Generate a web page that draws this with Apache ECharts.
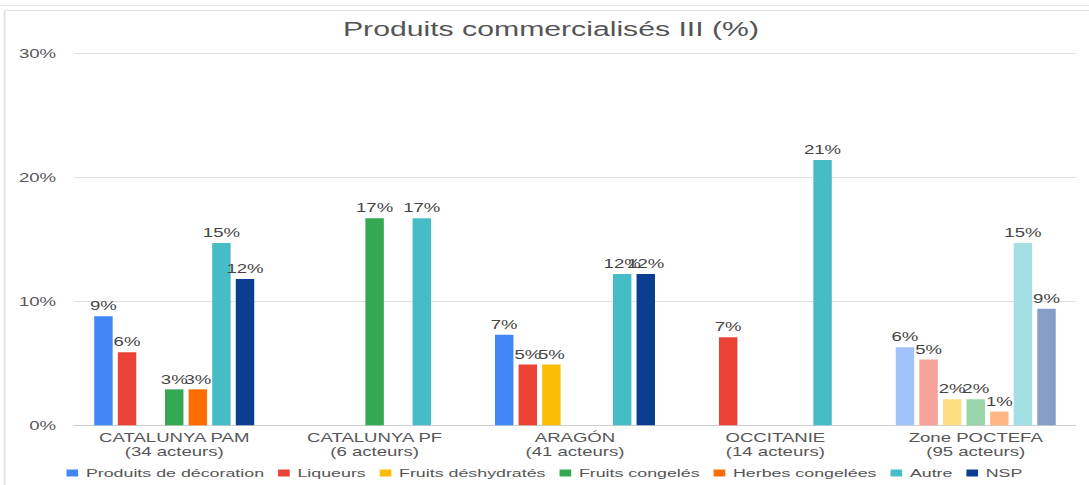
<!DOCTYPE html>
<html lang="fr">
<head>
<meta charset="utf-8">
<title>Produits commercialisés III (%)</title>
<script src="https://cdn.jsdelivr.net/npm/echarts@6/dist/echarts.min.js"></script>
<style>
  html, body { margin: 0; padding: 0; background: #fff; overflow: hidden; }
  /* the reference is drawn wide: render narrow, then stretch horizontally */
  #main { width: 703px; height: 485px; transform: scaleX(1.549); transform-origin: 0 0; }
</style>
</head>
<body>
<div id="main"></div>
<script>
// categories (x axis)
var categories = [
  'CATALUNYA PAM\n(34 acteurs)',
  'CATALUNYA PF\n(6 acteurs)',
  'ARAGÓN\n(41 acteurs)',
  'OCCITANIE\n(14 acteurs)',
  'Zone POCTEFA\n(95 acteurs)'
];
// series names
var seriesNames = ['Produits de décoration', 'Liqueurs', 'Fruits déshydratés', 'Fruits congelés', 'Herbes congelées', 'Autre', 'NSP'];
// values in %, one per category
var decoration  = [8.8, null, 7.3, null, 6.3];
var liqueurs    = [5.9, null, 4.9, 7.1, 5.3];
var deshydrates = [null, null, 4.9, null, 2.1];
var congeles    = [2.9, 16.7, null, null, 2.1];
var herbes      = [2.9, null, null, null, 1.1];
var autre       = [14.7, 16.7, 12.2, 21.4, 14.7];
var nsp         = [11.8, null, 12.2, null, 9.4];
// y ticks
var yTicks = [0, 10, 20, 30];

var colors = ['#4285F4', '#EA4335', '#FBBC04', '#34A853', '#FF6D01', '#46BDC6', '#0B3D91'];
var allValues = [decoration, liqueurs, deshydrates, congeles, herbes, autre, nsp];
var textColor = '#575757';
var fontFamily = '"Liberation Sans", Arial, sans-serif';
var fs = 12;

var chart = echarts.init(document.getElementById('main'), null, { renderer: 'svg' });

// half-way mix with white
function tint(hex) {
  var n = parseInt(hex.slice(1), 16);
  var r = Math.round(((n >> 16) + 255) / 2);
  var g = Math.round((((n >> 8) & 255) + 255) / 2);
  var b = Math.round(((n & 255) + 255) / 2);
  return 'rgb(' + r + ',' + g + ',' + b + ')';
}

// the last group (zone total) is drawn in pale tints
function makeData(values, color) {
  return values.map(function (v, i) {
    if (i === categories.length - 1 && v != null) {
      return { value: v, itemStyle: { color: tint(color) } };
    }
    return v;
  });
}

var series = seriesNames.map(function (name, k) {
  return {
    name: name,
    type: 'bar',
    barWidth: 11.9,
    barGap: '28%',
    data: makeData(allValues[k], colors[k]),
    itemStyle: { color: colors[k] },
    label: {
      show: true,
      position: 'top',
      distance: 4,
      color: '#444',
      fontSize: fs,
      fontFamily: fontFamily,
      formatter: function (p) { return Math.round(p.value) + '%'; }
    }
  };
});

var option = {
  animation: false,
  color: colors,
  textStyle: { fontFamily: fontFamily },
  title: {
    text: 'Produits commercialisés III (%)',
    left: 355.7,
    textAlign: 'center',
    top: 19,
    padding: 0,
    textStyle: { color: '#555', fontSize: 19.5, fontWeight: 'normal', fontFamily: fontFamily }
  },
  legend: {
    data: seriesNames,
    left: 'center',
    top: 467,
    padding: 0,
    icon: 'rect',
    itemWidth: 7.5,
    itemHeight: 7,
    itemGap: 9,
    textStyle: { color: '#555', fontSize: 11.5, fontFamily: fontFamily }
  },
  grid: { left: 47.8, right: 8.4, top: 53.3, bottom: 59.7 },
  xAxis: {
    type: 'category',
    data: categories,
    axisTick: { show: false },
    axisLine: { lineStyle: { color: '#d0d0d0' } },
    axisLabel: { color: textColor, fontSize: fs, lineHeight: 13.5, margin: 6, fontFamily: fontFamily }
  },
  yAxis: {
    type: 'value',
    min: yTicks[0],
    max: yTicks[yTicks.length - 1],
    interval: yTicks[1] - yTicks[0],
    axisLine: { show: false },
    axisTick: { show: false },
    splitLine: { lineStyle: { color: '#e0e0e0' } },
    axisLabel: { color: textColor, fontSize: fs, margin: 11.6, fontFamily: fontFamily, formatter: '{value}%' }
  },
  graphic: [
    // frame of the sheet card
    { type: 'line', shape: { x1: 0, y1: 5.5, x2: 703, y2: 5.5 }, style: { stroke: '#e6e6e6', lineWidth: 1 } },
    { type: 'line', shape: { x1: 3, y1: 10.5, x2: 703, y2: 10.5 }, style: { stroke: '#e0e0e0', lineWidth: 1 } },
    { type: 'line', shape: { x1: 3, y1: 10.5, x2: 3, y2: 485 }, style: { stroke: '#e0e0e0', lineWidth: 1.2 } }
  ],
  series: series
};

chart.setOption(option);
</script>
</body>
</html>
